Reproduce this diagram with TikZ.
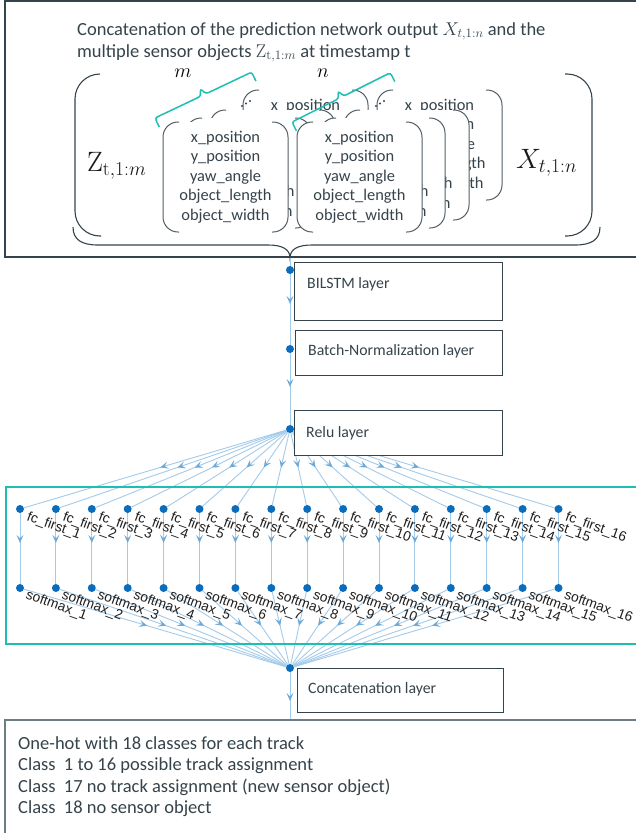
\RequirePackage{fix-cm}
\documentclass[tikz,border=0pt]{standalone}
\usepackage[no-math]{fontspec}
\setmainfont{Carlito}
\newfontfamily\arialfont{Liberation Sans}
\usetikzlibrary{arrows.meta,decorations.markings}
\definecolor{txtc}{HTML}{36434B}
\definecolor{framec}{HTML}{34434C}
\definecolor{grayc}{HTML}{6E7C84}
\definecolor{tealc}{HTML}{1DBFB3}
\definecolor{flowc}{HTML}{A4CBEA}
\definecolor{arrc}{HTML}{6BAAD9}
\definecolor{dotc}{HTML}{0A6CBD}
\tikzset{
  dotnode/.style={circle,inner sep=0pt,minimum size=8pt},
  flow/.style={draw=flowc,line width=0.9pt,postaction={decorate},
    decoration={markings,mark=at position #1 with {\arrow[arrc]{Stealth[length=8pt,width=7pt,inset=3.5pt]}}}},
  flow/.default=0.5,
  layerbox/.style={draw=framec,line width=1.1pt,fill=white,inner sep=0pt,anchor=north west},
  layertext/.style={anchor=base west,text=txtc,font=\fontsize{15.8}{18}\selectfont,inner sep=0pt},
  cardline/.style={draw=framec!85,line width=1pt,rounded corners=15pt},
  cardtext/.style={text=txtc,align=center,font=\fontsize{16.4}{19.5}\selectfont,inner sep=0pt},
  fclabel/.style={anchor=base west,rotate=-20,font=\arialfont\fontsize{13.8}{16}\selectfont,text=black!88,inner sep=0pt},
  tealbrace/.style={draw=tealc,line width=1.5pt,rounded corners=2.5pt},
  titletext/.style={anchor=base west,text=txtc,font=\fontsize{18.5}{22}\selectfont,inner sep=0pt},
  biglabel/.style={anchor=base west,text=black!90,font=\fontsize{28}{32}\selectfont,inner sep=0pt},
}
\newcommand{\objcard}[3]{%
  \fill[white,rounded corners=15pt] (#1,#2) rectangle ++(125,110);
  \draw[cardline] (#1+16,#2) -- (#1,#2) -- (#1,#2+110) -- (#1+16,#2+110);
  \draw[cardline] (#1+109,#2) -- (#1+125,#2) -- (#1+125,#2+110) -- (#1+109,#2+110);
  \node[cardtext] (#3) at (#1+62.5,#2+55) {x\_position\\y\_position\\yaw\_angle\\object\_length\\object\_width};
}
\newcommand{\threedots}[2]{%
  \fill[framec] (#1,#2+18) circle[radius=1.2pt] (#1+4,#2+15.5) circle[radius=1.2pt] (#1+8,#2+13) circle[radius=1.2pt];
}
\begin{document}
\begin{tikzpicture}[x=1pt,y=-1pt]
\useasboundingbox (0,0) rectangle (636,833);
\fill[white] (0,0) rectangle (636,833);

% ---------- top section ----------
\draw[framec,line width=1.2pt] (5,1) rectangle (650,257);
\node[titletext] (title1) at (77,35)
  {Concatenation of the prediction network output $X_{t,1:n}$ and the};
\node[titletext] (title2) at (77,57)
  {multiple sensor objects $\mathrm{Z}_{\mathrm{t},1:m}$ at timestamp t};

% big parentheses
\draw[framec,line width=1.1pt,rounded corners=25pt] (100,74) -- (75,74) -- (75,236) -- (101,236);
\draw[framec,line width=1.1pt,rounded corners=25pt] (565,74) -- (592,74) -- (592,236) -- (565,236);
% big lower brace
\draw[framec,line width=1.1pt] (73,227) .. controls (73,240) and (82,245) .. (98,245) -- (268,245)
  .. controls (282,245) and (290,249) .. (290,258) .. controls (290,249) and (298,245) .. (312,245)
  -- (575,245) .. controls (591,245) and (600,240) .. (600,227);

\node[biglabel] (zlabel) at (87,171) {$\mathrm{Z}_{\mathrm{t},1:m}$};
\node[biglabel] (xlabel) at (516,168) {$X_{t,1:n}$};

% Z stack
\objcard{243}{90}{zback}
\threedots{242}{88}
\objcard{210}{110}{zc3}
\objcard{186}{118}{zc2}
\objcard{163}{122}{zfront}
% X stack
\objcard{377}{90}{xback}
\threedots{376}{88}
\objcard{344}{110}{xc3}
\objcard{320}{118}{xc2}
\objcard{297}{122}{xfront}

% teal braces
\begin{scope}[shift={(155,118)},rotate=25.4]
  \draw[tealbrace] (0,10) -- (0,0) -- (50.5,0) -- (53.5,-7) -- (56.5,0) -- (107,0) -- (107,10);
\end{scope}
\begin{scope}[shift={(292,122)},rotate=26.6]
  \draw[tealbrace] (0,10) -- (0,0) -- (52,0) -- (55,-7) -- (58,0) -- (110,0) -- (110,10);
\end{scope}
\node[font=\fontsize{20}{24}\selectfont,inner sep=0pt] (mlabel) at (183,73) {$m$};
\node[font=\fontsize{20}{24}\selectfont,inner sep=0pt] (nlabel) at (323,73) {$n$};

% ---------- network ----------
\coordinate (bt) at (290,258);
\node[dotnode] (d1) at (290,270) {};
\node[dotnode] (d2) at (290,349) {};
\node[dotnode] (d3) at (290,429) {};
\node[dotnode] (d4) at (290,668) {};
\coordinate (ob) at (290,720);
\foreach \i in {1,...,16} {
  \pgfmathsetmacro\xx{20+35.9*(\i-1)}
  \node[dotnode] (fc\i) at (\xx,509) {};
  \node[dotnode] (sm\i) at (\xx,588) {};
}
\draw[flowc,line width=0.9pt] (bt) -- (d1);
\draw[flow=0.42] (d1) -- (d2);
\draw[flow=0.47] (d2) -- (d3);
\foreach \i in {1,...,16} {
  \draw[flow=0.48] (d3) -- (fc\i);
  \draw[flow=0.42] (fc\i) -- (sm\i);
  \draw[flow=0.47] (sm\i) -- (d4);
}
\draw[flow=0.6] (d4) -- (ob);

% layer boxes
\node[layerbox,minimum width=208pt,minimum height=58pt] (bilstm) at (294,262) {};
\node[layertext] (bilstmt) at (307,288) {BILSTM layer};
\node[layerbox,minimum width=207pt,minimum height=45pt] (bn) at (295,330) {};
\node[layertext] (bnt) at (308,355) {Batch-Normalization layer};
\node[layerbox,minimum width=208pt,minimum height=45pt] (relu) at (294,410) {};
\node[layertext] (relut) at (306,437) {Relu layer};
\node[layerbox,minimum width=206pt,minimum height=44pt] (concat) at (297,668) {};
\node[layertext] (concatt) at (308,693) {Concatenation layer};

% dots on top
\foreach \n in {d1,d2,d3,d4} {\fill[dotc] (\n) circle[radius=4pt];}
\foreach \i in {1,...,16} {
  \fill[dotc] (fc\i) circle[radius=4pt];
  \fill[dotc] (sm\i) circle[radius=4pt];
  \pgfmathsetmacro\xx{20+35.9*(\i-1)}
  \node[fclabel] (fcl\i) at (\xx+6,520) {fc\_first\_\i};
  \node[fclabel] (sml\i) at (\xx+5,598) {softmax\_\i};
}

% teal frame
\draw[tealc,line width=1.8pt] (6,487) rectangle (650,644);

% ---------- output ----------
\draw[grayc,line width=1.1pt] (5,720) rectangle (650,850);
\node[anchor=north west,align=left,text=txtc,font=\fontsize{18.5}{21.5}\selectfont,inner sep=0pt] (outtext) at (18,736)
  {One-hot with 18 classes for each track\\Class~~1 to 16 possible track assignment\\Class~~17 no track assignment (new sensor object)\\Class~~18 no sensor object};
\end{tikzpicture}
\end{document}
